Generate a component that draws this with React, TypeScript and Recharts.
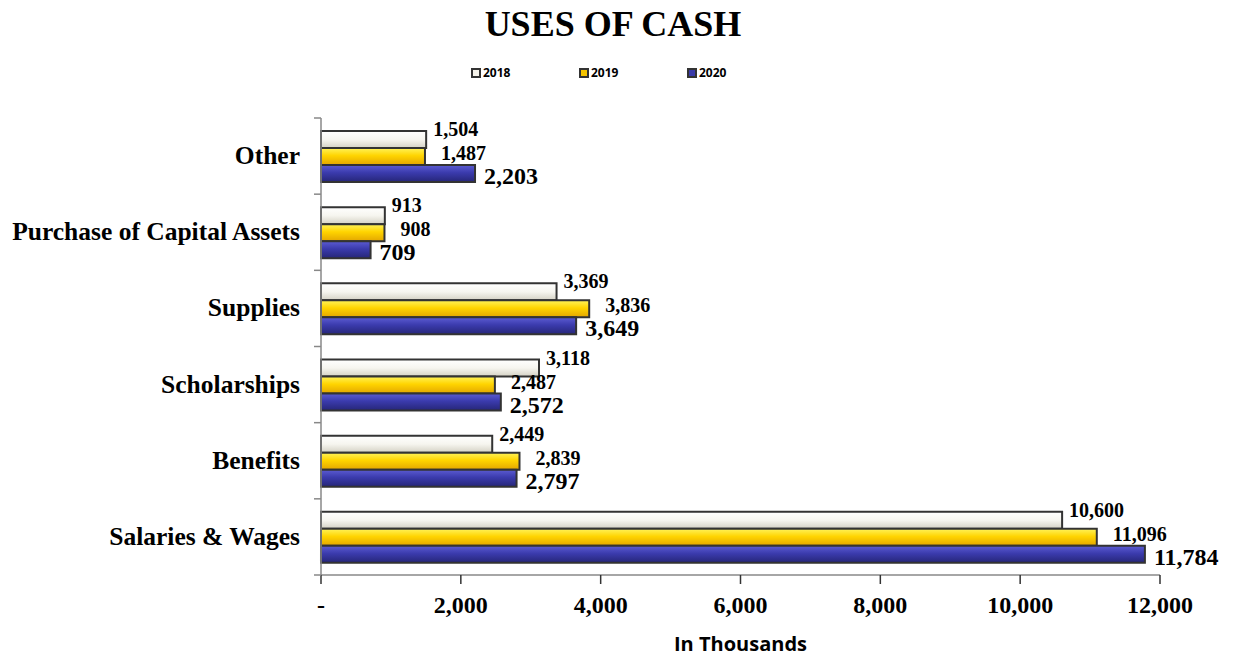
import React from 'react';
import { BarChart, Bar, XAxis, YAxis, LabelList } from 'recharts';

const categories = ['Other', 'Purchase of Capital Assets', 'Supplies', 'Scholarships', 'Benefits', 'Salaries & Wages'];
const values2018 = [1504, 913, 3369, 3118, 2449, 10600];
const values2019 = [1487, 908, 3836, 2487, 2839, 11096];
const values2020 = [2203, 709, 3649, 2572, 2797, 11784];
const xTicks = [0, 2000, 4000, 6000, 8000, 10000, 12000];

const data = categories.map((c, i) => ({ name: c, y2018: values2018[i], y2019: values2019[i], y2020: values2020[i] }));

const series = [
  { key: 'y2018', label: '2018', grad: 'g2018', swatch: '#f4f2ea', fontSize: 20, dy: -8, dx: 7 },
  { key: 'y2019', label: '2019', grad: 'g2019', swatch: '#f5c400', fontSize: 20, dy: -1, dx: 16 },
  { key: 'y2020', label: '2020', grad: 'g2020', swatch: '#3a3aa8', fontSize: 24, dy: 5, dx: 9 },
];

const W = 1241;
const H = 658;
const M = { top: 118, right: 81, bottom: 43, left: 0 };
const Y_W = 321;
const X_H = 40;
const plotH = H - M.top - M.bottom - X_H;
const band = plotH / categories.length;

const serif = '"Liberation Serif", "Times New Roman", serif';
const sans = '"Open Sans", "Liberation Sans", sans-serif';

const fmt = (v: number) => (v === 0 ? '-' : v.toLocaleString('en-US'));

const YTick = (props: any) => {
  const { x, y, payload, index } = props;
  return (
    <g>
      <line x1={x - 7} x2={x} y1={y - band / 2} y2={y - band / 2} stroke="#888" strokeWidth={1.5} />
      {index === categories.length - 1 && (
        <line x1={x - 7} x2={x} y1={y + band / 2} y2={y + band / 2} stroke="#888" strokeWidth={1.5} />
      )}
      <text x={x - 21} y={y} dy={8} textAnchor="end" fontFamily={serif} fontWeight="bold" fontSize={25.5} fill="#000">
        {payload.value}
      </text>
    </g>
  );
};

const makeLabel = (s: any) => (props: any) => {
  const { x, y, width, height, value } = props;
  return (
    <text
      x={x + width + s.dx}
      y={y + height / 2 + s.dy}
      dominantBaseline="middle"
      fontFamily={serif}
      fontWeight="bold"
      fontSize={s.fontSize}
      fill="#000"
    >
      {fmt(value)}
    </text>
  );
};

export default function App() {
  return (
    <div style={{ position: 'absolute', left: 0, top: 0, width: W, height: H, background: '#fff' }}>
      <div
        style={{
          position: 'absolute', left: 0, top: 3, width: 1226, textAlign: 'center',
          fontFamily: serif, fontWeight: 'bold', fontSize: 36, color: '#000',
        }}
      >
        USES OF CASH
      </div>
      <div style={{ position: 'absolute', top: 64, left: 471, display: 'flex', fontFamily: sans, fontWeight: 'bold', fontSize: 12 }}>
        {series.map((s) => (
          <div key={s.key} style={{ display: 'flex', alignItems: 'center', width: 108 }}>
            <span style={{ display: 'inline-block', width: 6, height: 6, background: s.swatch, border: '2px solid #333', marginRight: 2 }} />
            <span>{s.label}</span>
          </div>
        ))}
      </div>
      <div
        style={{
          position: 'absolute', left: 321, width: 839, top: 630, textAlign: 'center',
          fontFamily: sans, fontWeight: 'bold', fontSize: 20, color: '#000',
        }}
      >
        In Thousands
      </div>
      <BarChart
        width={W}
        height={H}
        data={data}
        layout="vertical"
        margin={M}
        barGap={0}
        barSize={17}
        style={{ position: 'absolute', left: 0, top: 0 }}
      >
        <defs>
          <linearGradient id="g2018" x1="0" y1="0" x2="0" y2="1">
            <stop offset="0%" stopColor="#ffffff" />
            <stop offset="50%" stopColor="#f6f5ef" />
            <stop offset="100%" stopColor="#d4d1c4" />
          </linearGradient>
          <linearGradient id="g2019" x1="0" y1="0" x2="0" y2="1">
            <stop offset="0%" stopColor="#fff35a" />
            <stop offset="45%" stopColor="#ffd400" />
            <stop offset="100%" stopColor="#e3a600" />
          </linearGradient>
          <linearGradient id="g2020" x1="0" y1="0" x2="0" y2="1">
            <stop offset="0%" stopColor="#5c5cd2" />
            <stop offset="45%" stopColor="#3b3bad" />
            <stop offset="100%" stopColor="#262678" />
          </linearGradient>
        </defs>
        <XAxis
          type="number"
          domain={[0, 12000]}
          ticks={xTicks}
          tickFormatter={fmt}
          height={X_H}
          interval={0}
          axisLine={{ stroke: '#888', strokeWidth: 1.5 }}
          tickLine={{ stroke: '#333', strokeWidth: 1.5 }}
          tickSize={9}
          tick={{ fontFamily: serif, fontWeight: 'bold', fontSize: 24, fill: '#000', dy: 10 }}
        />
        <YAxis
          type="category"
          dataKey="name"
          width={Y_W}
          axisLine={{ stroke: '#888', strokeWidth: 1.5 }}
          tickLine={false}
          tickSize={0}
          tickMargin={0}
          interval={0}
          tick={<YTick />}
        />
        {series.map((s) => (
          <Bar key={s.key} dataKey={s.key} fill={`url(#${s.grad})`} stroke="#333" strokeWidth={2} isAnimationActive={false}>
            <LabelList dataKey={s.key} content={makeLabel(s)} />
          </Bar>
        ))}
      </BarChart>
    </div>
  );
}
